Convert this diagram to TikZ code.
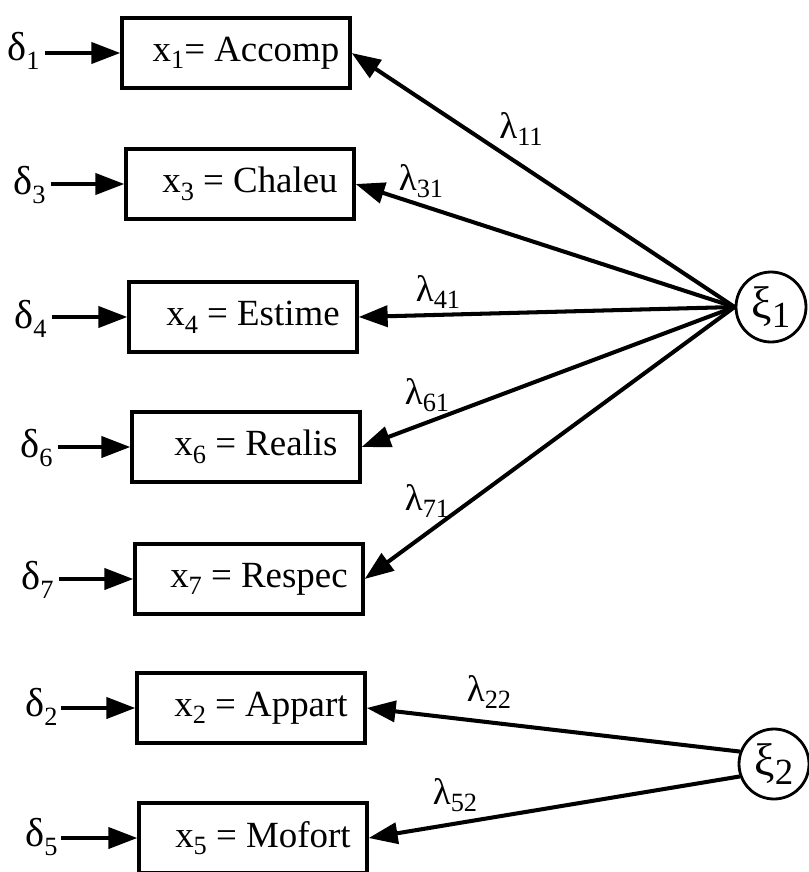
\documentclass[tikz,border=0pt]{standalone}
\usepackage{fontspec}
\setmainfont{Liberation Serif}
\usetikzlibrary{arrows.meta}
\newcommand{\lowsub}[2][15]{\raisebox{-0.45ex}{\fontsize{#1}{#1}\selectfont #2}}

\begin{document}
\begin{tikzpicture}[x=0.02cm, y=-0.02cm,
	obs/.style={draw, line width=1.9pt, minimum width=4.56cm, minimum height=1.4cm, inner sep=0pt, font=\fontsize{21}{24}\selectfont},
	lat/.style={draw, circle, line width=1.6pt, minimum size=1.4cm, inner sep=0pt, font=\fontsize{26}{28}\selectfont},
	err/.style={inner sep=0pt, anchor=east, font=\fontsize{23}{26}\selectfont},
	lab/.style={inner sep=0pt, font=\fontsize{21}{24}\selectfont},
	arr/.style={line width=2.3pt, -{Triangle[length=5.8mm, width=4.2mm]}}]
			%%%%% START %%%%%
			
			\useasboundingbox (0, 0) rectangle (808, 872);
			
			\node[obs] (x1) at (236, 53) {\hspace*{0.4cm}x\lowsub{1}= Accomp};
			\node[obs] (x3) at (240, 184) {\hspace*{0.4cm}x\lowsub{3} = Chaleu};
			\node[obs] (x4) at (243, 317) {\hspace*{0.4cm}x\lowsub{4} = Estime};
			\node[obs] (x6) at (246, 447) {\hspace*{0.4cm}x\lowsub{6} = Realis};
			\node[obs] (x7) at (249, 579) {\hspace*{0.4cm}x\lowsub{7} = Respec};
			\node[obs] (x2) at (251, 708) {\hspace*{0.4cm}x\lowsub{2} = Appart};
			\node[obs] (x5) at (253, 838) {\hspace*{0.4cm}x\lowsub{5} = Mofort};
			
			\node[lat] (xi1) at (771, 307) {ξ\lowsub[21]{1}};
			\node[lat] (xi2) at (774, 764) {ξ\lowsub[21]{2}};
			
			\node[err] (d1) at (40, 51) {δ\lowsub{1}};
			\node[err] (d3) at (46, 185) {δ\lowsub{3}};
			\node[err] (d4) at (47, 319) {δ\lowsub{4}};
			\node[err] (d6) at (53, 448) {δ\lowsub{6}};
			\node[err] (d7) at (54, 580) {δ\lowsub{7}};
			\node[err] (d2) at (58, 707) {δ\lowsub{2}};
			\node[err] (d5) at (58, 837) {δ\lowsub{5}};
			
			\draw[arr] (x1.west -| d1.east) ++(5, 0) -- (x1.west);
			\draw[arr] (x3.west -| d3.east) ++(5, 0) -- (x3.west);
			\draw[arr] (x4.west -| d4.east) ++(5, 0) -- (x4.west);
			\draw[arr] (x6.west -| d6.east) ++(5, 0) -- (x6.west);
			\draw[arr] (x7.west -| d7.east) ++(5, 0) -- (x7.west);
			\draw[arr] (x2.west -| d2.east) ++(3, 0) -- (x2.west);
			\draw[arr] (x5.west -| d5.east) ++(3, 0) -- (x5.west);
			
			\draw[arr] (xi1.west) -- (x1.east);
			\draw[arr] (xi1.west) -- (x3.east);
			\draw[arr] (xi1.west) -- (x4.east);
			\draw[arr] (xi1.west) -- (x6.east);
			\draw[arr] (xi1.west) -- (x7.east);
			\draw[arr] (xi2.160) -- (x2.east);
			\draw[arr] (xi2.200) -- (x5.east);
			
			\node[lab] (l11) at (521, 129) {λ\lowsub{11}};
			\node[lab] (l31) at (421, 181) {λ\lowsub{31}};
			\node[lab] (l41) at (438, 292) {λ\lowsub{41}};
			\node[lab] (l61) at (427, 395) {λ\lowsub{61}};
			\node[lab] (l71) at (427, 501) {λ\lowsub{71}};
			\node[lab] (l22) at (489, 692) {λ\lowsub{22}};
			\node[lab] (l52) at (455, 795) {λ\lowsub{52}};
			
			%%%%% END %%%%%
\end{tikzpicture}
\end{document}
